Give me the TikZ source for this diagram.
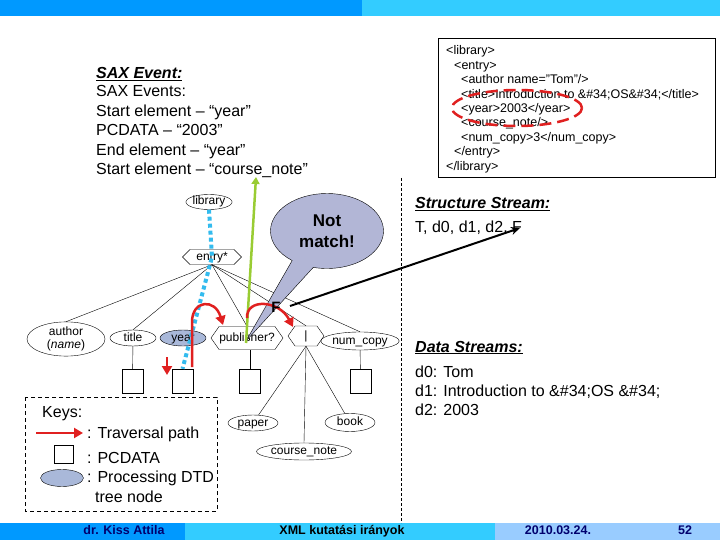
\documentclass[tikz,border=0pt]{standalone}
\usepackage{fontspec}
\setmainfont{Liberation Sans}
\usetikzlibrary{shapes.geometric,shapes.symbols,shapes.callouts,arrows.meta}
\definecolor{barA}{RGB}{0,153,255}
\definecolor{barB}{RGB}{51,204,255}
\definecolor{barC}{RGB}{153,204,255}
\definecolor{procfill}{RGB}{169,184,217}
\definecolor{callfill}{RGB}{178,182,214}
\definecolor{dotblue}{RGB}{51,187,238}
\definecolor{trav}{RGB}{224,32,32}
\definecolor{greenl}{RGB}{153,204,51}
\definecolor{navyt}{RGB}{0,0,110}
\begin{document}
\begin{tikzpicture}[x=1pt,y=-1pt,
  treefont/.style={font=\fontsize{12}{14}\selectfont},
  elnode/.style={draw, ellipse, inner sep=0pt, treefont, text height=8.2pt, text depth=2.2pt},
  hexnode/.style={draw, signal, signal to=east and west, inner sep=0pt, treefont, text height=8.2pt, text depth=2.2pt},
  pcbox/.style={draw, rectangle, minimum width=21pt, minimum height=24pt, inner sep=0pt},
  travarrow/.style={draw=trav, line width=2.5pt, -{Triangle[length=9pt,width=10pt]}},
  bodytext/.style={anchor=base west, inner sep=0pt, font=\fontsize{16}{19.5}\selectfont},
  headtext/.style={anchor=base west, inner sep=0pt, font=\fontsize{16}{19.5}\selectfont\bfseries\itshape},
  xmltext/.style={anchor=base west, inner sep=0pt, font=\fontsize{12.5}{14}\selectfont},
  bartext/.style={inner sep=0pt, font=\fontsize{12.5}{14}\selectfont\bfseries, text height=9pt, text depth=2.5pt},
]
\useasboundingbox (0,0) rectangle (720,540);
% bars
\fill[barA] (0,0) rectangle (362,16);
\fill[barB] (362,0) rectangle (720,16);
\fill[barA] (0,523) rectangle (185,540);
\fill[barB] (185,523) rectangle (495,540);
\fill[barC] (495,523) rectangle (720,540);
\node[bartext, text=navyt] (foot1) at (124,531.5) {dr. Kiss Attila};
\node[bartext] (foot2) at (342,531.5) {XML kutatási irányok};
\node[bartext, text=navyt] (foot3) at (558,531.5) {2010.03.24.};
\node[bartext, text=navyt] (foot4) at (685,531.5) {52};

% XML box
\draw[line width=0.8pt] (438,38) rectangle (715,177);
\node[xmltext] (x1) at (446,55) {<library>};
\node[xmltext] (x2) at (454,69.4) {<entry>};
\node[xmltext] (x3) at (461,83.8) {<author name="Tom"/>};
\node[xmltext] (x4) at (461,98.2) {<title>Introduction to \&\#34;OS\&\#34;</title>};
\node[xmltext] (x5) at (461,112.6) {<year>2003</year>};
\node[xmltext] (x6) at (461,127) {<course\_note/>};
\node[xmltext] (x7) at (461,141.4) {<num\_copy>3</num\_copy>};
\node[xmltext] (x8) at (454,155.8) {</entry>};
\node[xmltext] (x9) at (446,170.2) {</library>};
\draw[trav, line width=2.5pt, dash pattern=on 12pt off 6pt] (517,108) ellipse [x radius=65, y radius=18];

% SAX text
\node[headtext] (saxh) at (96,79) {\underline{SAX Event:}};
\node[bodytext] (sax1) at (96,97) {SAX Events:};
\node[bodytext] (sax2) at (96,116.5) {Start element – “year”};
\node[bodytext] (sax3) at (96,136) {PCDATA – “2003”};
\node[bodytext] (sax4) at (96,155.5) {End element – “year”};
\node[bodytext] (sax5) at (96,175) {Start element – “course\_note”};

% right text
\node[headtext] (ssh) at (415,209) {\underline{Structure Stream:}};
\node[bodytext] (ss1) at (415,233) {T, d0, d1, d2, F};
\node[headtext] (dsh) at (415,352) {\underline{Data Streams:}};
\node[bodytext] (ds0) at (415,377) {d0: Tom};
\node[bodytext] (ds1) at (415,396) {d1: Introduction to \&\#34;OS \&\#34;};
\node[bodytext] (ds2) at (415,415) {d2: 2003};

% dashed separator
\coordinate (dv1) at (401,178);
\coordinate (dv2) at (401,523);
\draw[dash pattern=on 3pt off 2pt, line width=0.8pt] (dv1) -- (dv2);

% tree
\node[elnode, minimum width=42pt, minimum height=15pt] (lib) at (209,202) {library};
\node[hexnode, signal pointer angle=90, minimum width=59pt, minimum height=15pt] (entry) at (212,257) {entry*};
\node[draw, ellipse, inner sep=0pt, minimum width=78pt, minimum height=32pt, align=center, font=\fontsize{12}{13}\selectfont] (author) at (66,339) {author\\(\textit{name})};
\node[elnode, minimum width=46pt, minimum height=16pt] (title) at (133,338) {title};
\node[elnode, fill=procfill, minimum width=46pt, minimum height=16pt] (year) at (183,338) {year};
\node[hexnode, signal pointer angle=110, minimum width=72pt, minimum height=23pt] (pub) at (247,338) {publisher?};
\node[hexnode, signal pointer angle=110, minimum width=36pt, minimum height=20pt] (choice) at (306,336) {|};
\node[elnode, minimum width=68pt, minimum height=18pt] (numc) at (360,341) {num\_copy};
\node[pcbox] (titlebox) at (132.5,381) {};
\node[pcbox] (yearbox) at (182.5,381) {};
\node[pcbox] (pubbox) at (250,381) {};
\node[pcbox] (numbox) at (360.5,381) {};
\node[elnode, minimum width=50pt, minimum height=16pt] (paper) at (253,423) {paper};
\node[elnode, minimum width=50pt, minimum height=18pt] (book) at (350,422.5) {book};
\node[elnode, minimum width=95pt, minimum height=17pt] (cnote) at (304,451.5) {course\_note};

\draw (entry.south) -- (author.north);
\draw (entry.south) -- (title.north);
\draw (entry.south) -- (pub.north);
\draw (entry.south) -- (choice.north);
\draw (entry.south) -- (numc.north);
\draw (title) -- (titlebox);
\draw (pubbox.north) -- (pubbox.north |- pub.south);
\draw (numc) -- (numbox);
\draw (choice.south) -- (paper);
\draw (choice.south) -- (book);
\draw (choice.south) -- (cnote.north);

\draw[dotblue, line width=4pt, dash pattern=on 4pt off 3pt] (lib.south) -- (entry.center) -- (yearbox.north);

% callout
\coordinate (calltip) at (246,341);
\node[ellipse callout, draw, fill=callfill, minimum width=113pt, minimum height=75pt,
  callout absolute pointer={(calltip)}, callout pointer arc=24, align=center,
  font=\fontsize{17}{21}\selectfont\bfseries, inner sep=0pt] (nm) at (327,231) {Not\\match!};

% green arrow
\coordinate (g1) at (246,343);
\coordinate (g2) at (256,177);
\draw[greenl, line width=2.5pt, -{Triangle[length=7pt,width=8pt]}] (g1) -- (g2);

% traversal arrows
\coordinate (t1s) at (167,357);
\coordinate (t1e) at (167,375);
\draw[travarrow] (t1s) -- (t1e);
\coordinate (t2s) at (192,367);
\coordinate (t2e) at (223,325);
\draw[travarrow] (t2s) -- (192,322) .. controls (192,300) and (215,298) .. (t2e);
\coordinate (t3s) at (247,318);
\coordinate (t3e) at (293,327);
\draw[travarrow] (t3s) .. controls (246,298) and (279,300) .. (t3e);

% F
\node[font=\fontsize{15}{15}\selectfont\bfseries, inner sep=0pt] (F) at (276,307) {F};
\coordinate (fs) at (290,306);
\coordinate (fe) at (520,228);
\draw[line width=2pt, -{Stealth[length=9pt,width=8pt]}] (fs) -- (fe);

% keys
\draw[dash pattern=on 4pt off 3pt, line width=0.8pt] (25,397) rectangle (217,511);
\node[bodytext] (keys) at (42,417) {Keys:};
\coordinate (k1s) at (36,433);
\coordinate (k1e) at (83,433);
\draw[travarrow] (k1s) -- (k1e);
\node[bodytext] (kt) at (87,438) {: Traversal path};
\node[draw, minimum width=19pt, minimum height=18pt, inner sep=0pt] (kbox) at (63.5,454) {};
\node[bodytext] (kp) at (87,463) {: PCDATA};
\node[draw, ellipse, fill=procfill, minimum width=43pt, minimum height=17pt, inner sep=0pt] (kell) at (62,478) {};
\node[bodytext] (kd) at (87,482) {: Processing DTD};
\node[bodytext] (kd2) at (95,502) {tree node};
\end{tikzpicture}
\end{document}
